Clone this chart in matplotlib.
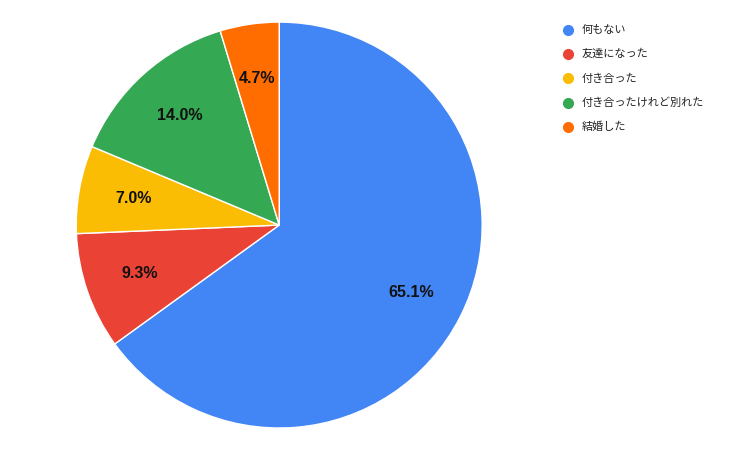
import matplotlib
matplotlib.use("Agg")
import matplotlib.pyplot as plt
from matplotlib.lines import Line2D

plt.rcParams['font.family'] = ['Noto Sans CJK JP', 'DejaVu Sans']

labels = ["何もない", "友達になった", "付き合った", "付き合ったけれど別れた", "結婚した"]
values = [65.1, 9.3, 7.0, 14.0, 4.7]
colors = ["#4285F4", "#EA4335", "#FBBC04", "#34A853", "#FF6D01"]

fig = plt.figure(figsize=(7.29, 4.51), dpi=100)
ax = fig.add_axes([0.383 - 0.2785, 0.501 - 0.45, 0.557, 0.9])
wedges, texts = ax.pie(values, colors=colors, startangle=90, counterclock=False,
                       wedgeprops=dict(edgecolor='white', linewidth=1))
import numpy as np
total = sum(values)
cum = 0
for v in values:
    mid = 90 - (cum + v / 2) / total * 360
    cum += v
    r = 0.73
    ax.text(r * np.cos(np.radians(mid)), r * np.sin(np.radians(mid)), f"{v:.1f}%",
            ha='center', va='center', fontsize=11.5, fontweight='bold', color='#111111',
            family=['Liberation Sans', 'DejaVu Sans'])
ax.set_xlim(-1, 1)
ax.set_ylim(-1, 1)
ax.set_aspect('equal')

for i, (lab, c) in enumerate(zip(labels, colors)):
    y = 1 - (30 + 24.2 * i) / 451
    fig.add_artist(Line2D([568 / 729], [y], marker='o', markersize=7, color=c, transform=fig.transFigure))
    fig.text(582 / 729, y, lab, fontsize=8, va='center', ha='left', color='#222222')

fig.savefig("out.png", dpi=100)
